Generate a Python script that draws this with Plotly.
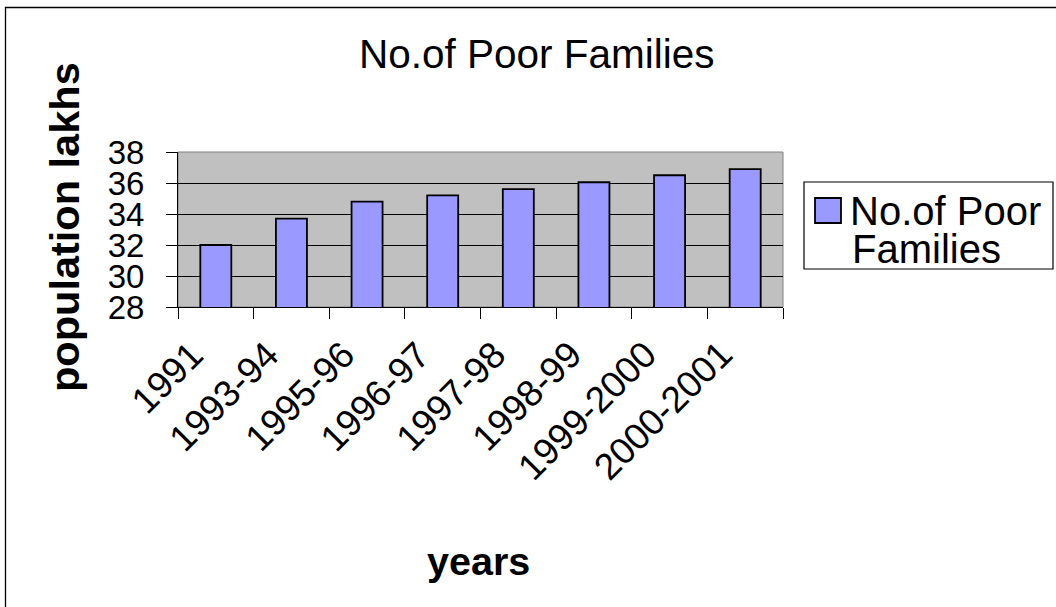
import plotly.graph_objects as go

# Number of poor families (population in lakhs) by year
years = ["1991", "1993-94", "1995-96", "1996-97", "1997-98", "1998-99", "1999-2000", "2000-2001"]
poor_families = [32.0, 33.7, 34.8, 35.2, 35.6, 36.05, 36.5, 36.9]
series_name = "No.of Poor Families"
y_ticks = [28, 30, 32, 34, 36, 38]

FONT = "Liberation Sans, Arial, sans-serif"
BAR_FILL = "#9999FF"

# plot area geometry in pixels
W_FIG, H_FIG = 1056, 607
L, R, T, B = 178, 273, 152, 300
PW = W_FIG - L - R
PH = H_FIG - T - B


def px(x):
    return (x - L) / PW


def py(y):
    return (H_FIG - B - y) / PH


fig = go.Figure()
fig.add_trace(go.Bar(
    x=years,
    y=poor_families,
    name=series_name,
    marker=dict(color=BAR_FILL, line=dict(color="black", width=1.8)),
    showlegend=False,
))

fig.update_layout(
    width=W_FIG,
    height=H_FIG,
    margin=dict(l=L, r=R, t=T, b=B, pad=0),
    paper_bgcolor="white",
    plot_bgcolor="#C0C0C0",
    bargap=0.59,
    font=dict(family=FONT, color="black"),
    xaxis=dict(
        type="category",
        categoryorder="array",
        categoryarray=years,
        range=[-0.5, len(years) - 0.5],
        tickson="boundaries",
        ticks="outside",
        ticklen=11,
        tickwidth=1,
        tickcolor="black",
        showticklabels=False,
        showline=True,
        linecolor="black",
        linewidth=1,
        showgrid=False,
        zeroline=False,
    ),
    yaxis=dict(
        range=[28, 38],
        tickvals=y_ticks,
        ticks="outside",
        ticklen=11,
        tickwidth=1,
        tickcolor="black",
        tickfont=dict(size=33, family=FONT),
        ticklabelstandoff=15,
        showline=True,
        linecolor="black",
        linewidth=1,
        showgrid=True,
        gridcolor="black",
        gridwidth=1,
        zeroline=False,
    ),
)

shapes = [
    # plot area frame (top / right edges)
    dict(type="rect", xref="paper", yref="paper", x0=0, x1=1, y0=0, y1=1,
         line=dict(color="#808080", width=1), layer="below"),
    # chart outer border
    dict(type="rect", xref="paper", yref="paper",
         x0=px(5.5), x1=px(1070), y0=py(620), y1=py(7.5),
         line=dict(color="black", width=1.3)),
    # legend box
    dict(type="rect", xref="paper", yref="paper",
         x0=px(804), x1=px(1053), y0=py(269), y1=py(182),
         line=dict(color="black", width=1.2), fillcolor="white"),
    # legend swatch
    dict(type="rect", xref="paper", yref="paper",
         x0=px(815), x1=px(841), y0=py(223), y1=py(198),
         line=dict(color="black", width=1.8), fillcolor=BAR_FILL),
]
fig.update_layout(shapes=shapes)

# category labels, slanted with their upper-right corner hung below each category
annotations = [
    dict(text=yr, x=i, xref="x", y=py(331), yref="paper",
         xanchor="right", yanchor="top", textangle=-45, showarrow=False,
         xshift=-2, font=dict(size=37, family=FONT))
    for i, yr in enumerate(years)
]

legend_lines = series_name.replace("Poor ", "Poor\n").split("\n")
annotations += [
    dict(text="No.of Poor Families", x=px(537), y=py(54), xref="paper", yref="paper",
         xanchor="center", yanchor="middle", showarrow=False,
         font=dict(size=40.5, family=FONT)),
    dict(text="<b>years</b>", x=px(478), y=py(561), xref="paper", yref="paper",
         xanchor="center", yanchor="middle", showarrow=False,
         font=dict(size=39.5, family=FONT)),
    dict(text="<b>population lakhs</b>", x=px(64), y=py(227), xref="paper", yref="paper",
         xanchor="center", yanchor="middle", showarrow=False, textangle=-90,
         font=dict(size=41.5, family=FONT)),
    dict(text=legend_lines[0], x=px(848), y=py(211), xref="paper", yref="paper",
         xanchor="left", yanchor="middle", showarrow=False,
         font=dict(size=40, family=FONT)),
    dict(text=legend_lines[1], x=px(850), y=py(249), xref="paper", yref="paper",
         xanchor="left", yanchor="middle", showarrow=False,
         font=dict(size=40, family=FONT)),
]
fig.update_layout(annotations=annotations)

fig.write_html("out.html")
